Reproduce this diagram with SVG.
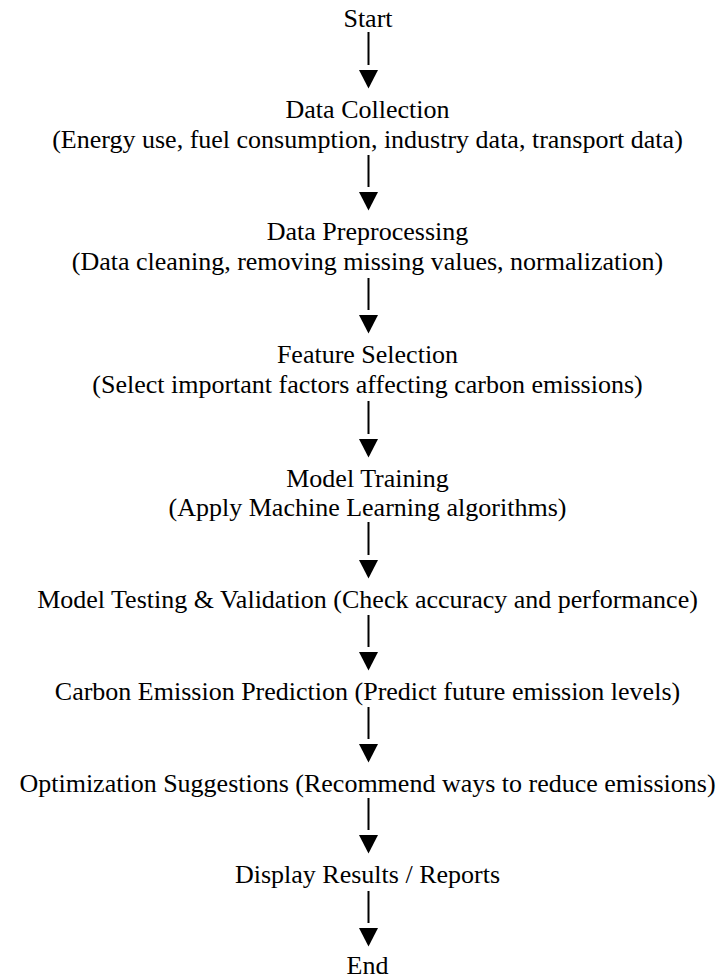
<svg xmlns="http://www.w3.org/2000/svg" xmlns:xlink="http://www.w3.org/1999/xlink" width="722" height="980" viewBox="0 0 722 980">
  <style>
    .lbl { font-family: "Liberation Serif", "Times New Roman", serif; font-size: 26px; fill: #000; text-anchor: middle; }
    .shaft { stroke: #000; stroke-width: 2; fill: none; }
    .head { fill: #000; stroke: none; }
  </style>
  <defs>
    <!-- downward arrowhead, origin at the top centre -->
    <path id="arrowhead" class="head" d="M-9.5,0 L9.5,0 L0,18.5 Z"/>
  </defs>
  <rect width="722" height="980" fill="#fff"/>

  <!-- process steps -->
  <g id="start">
    <text class="lbl" x="368" y="27">Start</text>
  </g>
  <g id="data-collection">
    <text class="lbl" x="367.5" y="118">Data Collection</text>
    <text class="lbl" x="367.5" y="148">(Energy use, fuel consumption, industry data, transport data)</text>
  </g>
  <g id="data-preprocessing">
    <text class="lbl" x="367.5" y="240">Data Preprocessing</text>
    <text class="lbl" x="367.5" y="270">(Data cleaning, removing missing values, normalization)</text>
  </g>
  <g id="feature-selection">
    <text class="lbl" x="367.5" y="363">Feature Selection</text>
    <text class="lbl" x="367.5" y="393">(Select important factors affecting carbon emissions)</text>
  </g>
  <g id="model-training">
    <text class="lbl" x="367.5" y="487">Model Training</text>
    <text class="lbl" x="367.5" y="516">(Apply Machine Learning algorithms)</text>
  </g>
  <g id="model-testing">
    <text class="lbl" x="367.5" y="608">Model Testing &amp; Validation (Check accuracy and performance)</text>
  </g>
  <g id="emission-prediction">
    <text class="lbl" x="367.5" y="700">Carbon Emission Prediction (Predict future emission levels)</text>
  </g>
  <g id="optimization">
    <text class="lbl" x="367.5" y="792">Optimization Suggestions (Recommend ways to reduce emissions)</text>
  </g>
  <g id="display-results">
    <text class="lbl" x="367.5" y="883">Display Results / Reports</text>
  </g>
  <g id="end">
    <text class="lbl" x="367.5" y="974">End</text>
  </g>

  <!-- connectors: vertical shaft followed by a separate arrowhead -->
  <g id="connectors">
    <line class="shaft" x1="368.5" y1="32" x2="368.5" y2="65"/>
    <use xlink:href="#arrowhead" x="368.5" y="70"/>

    <line class="shaft" x1="368.5" y1="155" x2="368.5" y2="187"/>
    <use xlink:href="#arrowhead" x="368.5" y="192"/>

    <line class="shaft" x1="368.5" y1="278" x2="368.5" y2="310"/>
    <use xlink:href="#arrowhead" x="368.5" y="315"/>

    <line class="shaft" x1="368.5" y1="401" x2="368.5" y2="434"/>
    <use xlink:href="#arrowhead" x="368.5" y="439"/>

    <line class="shaft" x1="368.5" y1="522" x2="368.5" y2="555"/>
    <use xlink:href="#arrowhead" x="368.5" y="560"/>

    <line class="shaft" x1="368.5" y1="615" x2="368.5" y2="647"/>
    <use xlink:href="#arrowhead" x="368.5" y="652"/>

    <line class="shaft" x1="368.5" y1="707" x2="368.5" y2="739"/>
    <use xlink:href="#arrowhead" x="368.5" y="744"/>

    <line class="shaft" x1="368.5" y1="798" x2="368.5" y2="830"/>
    <use xlink:href="#arrowhead" x="368.5" y="835"/>

    <line class="shaft" x1="368.5" y1="891" x2="368.5" y2="923"/>
    <use xlink:href="#arrowhead" x="368.5" y="928"/>
  </g>
</svg>
